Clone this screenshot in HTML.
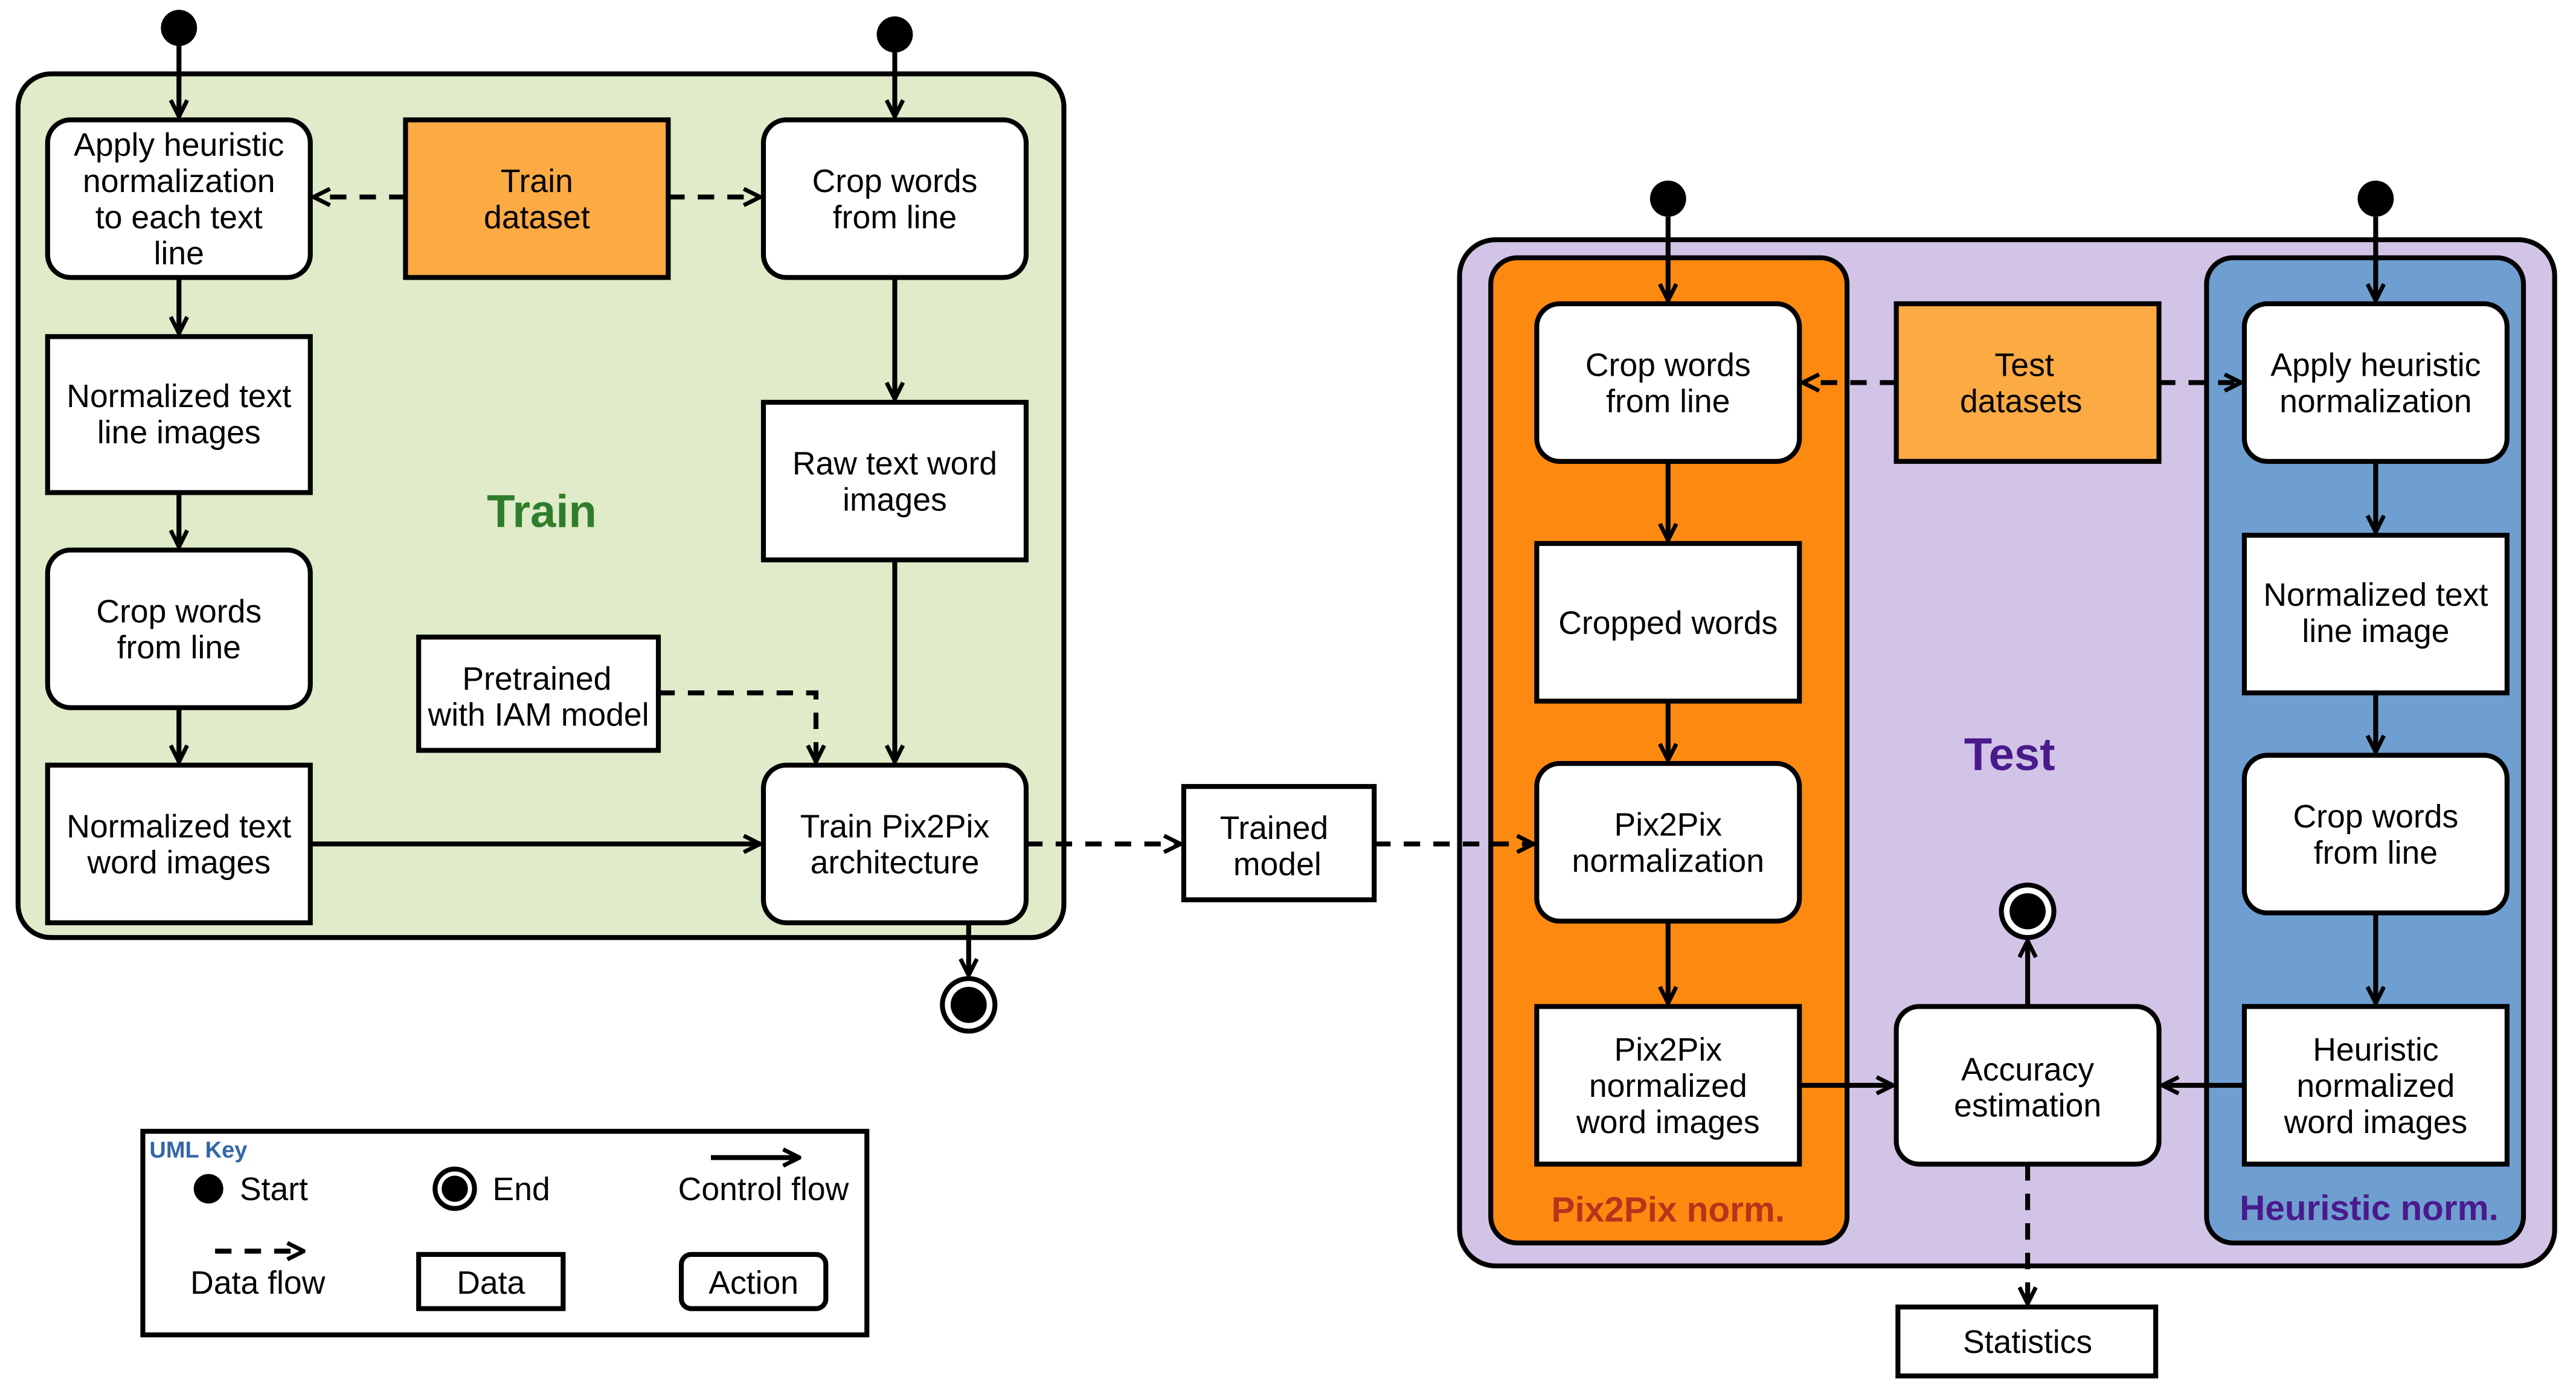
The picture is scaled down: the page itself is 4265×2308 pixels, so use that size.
<!DOCTYPE html>
<html><head><meta charset="utf-8"><style>
html,body{margin:0;padding:0;background:#fff}
svg{display:block}
text{font-family:"Liberation Sans",sans-serif;font-size:19.7px;fill:#000;text-anchor:middle}
</style></head><body>
<svg width="4265" height="2308" viewBox="0 0 1569 849" preserveAspectRatio="none" xmlns="http://www.w3.org/2000/svg">
<defs>
<marker id="a" viewBox="0 0 12 12" refX="11" refY="6" markerWidth="12" markerHeight="12" markerUnits="userSpaceOnUse" orient="auto">
<path d="M1,1 L11,6 L1,11" fill="none" stroke="#000" stroke-width="2.5"/>
</marker>
</defs>
<g stroke="#000" stroke-width="3">
<rect x="11" y="45" width="637" height="526" rx="20" fill="#dfebc9"/>
<rect x="889" y="146" width="667" height="625" rx="22" fill="#d2c4e7"/>
<rect x="908" y="157" width="217" height="600" rx="16" fill="#fd8a10"/>
<rect x="1344" y="157" width="193" height="600" rx="16" fill="#6f9fd0"/>
<rect x="29" y="73" width="160" height="96" rx="14" fill="#fff"/>
<rect x="29" y="205" width="160" height="95" fill="#fff"/>
<rect x="29" y="335" width="160" height="96" rx="14" fill="#fff"/>
<rect x="29" y="466" width="160" height="96" fill="#fff"/>
<rect x="247" y="73" width="160" height="96" fill="#fbaa44"/>
<rect x="465" y="73" width="160" height="96" rx="14" fill="#fff"/>
<rect x="465" y="245" width="160" height="96" fill="#fff"/>
<rect x="255" y="388" width="146" height="69" fill="#fff"/>
<rect x="465" y="466" width="160" height="96" rx="14" fill="#fff"/>
<rect x="721" y="479" width="116" height="69" fill="#fff"/>
<rect x="936" y="185" width="160" height="96" rx="14" fill="#fff"/>
<rect x="1155" y="185" width="160" height="96" fill="#fbaa44"/>
<rect x="1367" y="185" width="160" height="96" rx="14" fill="#fff"/>
<rect x="936" y="331" width="160" height="96" fill="#fff"/>
<rect x="1367" y="326" width="160" height="96" fill="#fff"/>
<rect x="936" y="465" width="160" height="96" rx="14" fill="#fff"/>
<rect x="1367" y="460" width="160" height="96" rx="14" fill="#fff"/>
<rect x="936" y="613" width="160" height="96" fill="#fff"/>
<rect x="1155" y="613" width="160" height="96" rx="14" fill="#fff"/>
<rect x="1367" y="613" width="160" height="96" fill="#fff"/>
<rect x="1156" y="796" width="157" height="42" fill="#fff"/>
<rect x="87" y="689" width="441" height="124" fill="#fff"/>
<rect x="255" y="764" width="88" height="33" fill="#fff"/>
<rect x="415" y="764" width="88" height="33" rx="6" fill="#fff"/>
</g>
<g fill="#000">
<circle cx="109" cy="17" r="11"/><circle cx="545" cy="21" r="11"/>
<circle cx="1016" cy="121" r="11"/><circle cx="1447" cy="121" r="11"/>
<circle cx="127" cy="724" r="9"/>
</g>
<g fill="#fff" stroke="#000" stroke-width="3">
<circle cx="590" cy="612" r="16"/><circle cx="1235" cy="555" r="16"/><circle cx="277" cy="724" r="12"/>
</g>
<g fill="#000"><circle cx="590" cy="612" r="11"/><circle cx="1235" cy="555" r="11"/><circle cx="277" cy="724" r="8"/></g>
<g stroke="#000" stroke-width="3" fill="none" marker-end="url(#a)">
<path d="M109,28 V71"/><path d="M545,32 V71"/>
<path d="M109,169 V203"/><path d="M109,300 V333"/><path d="M109,431 V464"/>
<path d="M545,169 V243"/><path d="M545,341 V464"/>
<path d="M189,514 H463"/>
<path d="M1016,132 V183"/><path d="M1447,132 V183"/>
<path d="M1016,281 V329"/><path d="M1016,427 V463"/><path d="M1016,561 V611"/>
<path d="M1447,281 V324"/><path d="M1447,422 V458"/><path d="M1447,556 V611"/>
<path d="M1096,661 H1153"/><path d="M1367,661 H1317"/>
<path d="M1235,613 V573"/>
<path d="M590,562 V594"/>
<path d="M433,705 H487"/>
</g>
<g stroke="#000" stroke-width="3" fill="none" stroke-dasharray="10,8" marker-end="url(#a)">
<path d="M247,120 H191"/><path d="M407,120 H463"/>
<path d="M401,422 H497 V464"/>
<path d="M625,514 H719"/><path d="M837,514 H934"/>
<path d="M1155,233 H1098"/><path d="M1315,233 H1365"/>
<path d="M1235,709 V794"/>
<path d="M131,762 H185"/>
</g>
<text x="109" y="95">Apply heuristic</text><text x="109" y="117">normalization</text><text x="109" y="139">to each text</text><text x="109" y="161">line</text>
<text x="109" y="248">Normalized text</text><text x="109" y="270">line images</text>
<text x="109" y="379">Crop words</text><text x="109" y="401">from line</text>
<text x="109" y="510">Normalized text</text><text x="109" y="532">word images</text>
<text x="327" y="117">Train</text><text x="327" y="139">dataset</text>
<text x="545" y="117">Crop words</text><text x="545" y="139">from line</text>
<text x="545" y="289">Raw text word</text><text x="545" y="311">images</text>
<text x="327" y="420">Pretrained</text><text x="328" y="442">with IAM model</text>
<text x="545" y="510">Train Pix2Pix</text><text x="545" y="532">architecture</text>
<text x="776" y="511">Trained</text><text x="778" y="533">model</text>
<text x="330" y="321" style="font-size:28px;font-weight:bold;fill:#2f7d2c">Train</text>
<text x="1016" y="229">Crop words</text><text x="1016" y="251">from line</text>
<text x="1233" y="229">Test</text><text x="1231" y="251">datasets</text>
<text x="1447" y="229">Apply heuristic</text><text x="1447" y="251">normalization</text>
<text x="1016" y="386">Cropped words</text>
<text x="1447" y="369">Normalized text</text><text x="1447" y="391">line image</text>
<text x="1016" y="509">Pix2Pix</text><text x="1016" y="531">normalization</text>
<text x="1447" y="504">Crop words</text><text x="1447" y="526">from line</text>
<text x="1016" y="646">Pix2Pix</text><text x="1016" y="668">normalized</text><text x="1016" y="690">word images</text>
<text x="1235" y="658">Accuracy</text><text x="1235" y="680">estimation</text>
<text x="1447" y="646">Heuristic</text><text x="1447" y="668">normalized</text><text x="1447" y="690">word images</text>
<text x="1235" y="824">Statistics</text>
<text x="1224" y="469" style="font-size:28px;font-weight:bold;fill:#4a1a8c">Test</text>
<text x="1016" y="744" style="font-size:21.5px;font-weight:bold;fill:#b5341b">Pix2Pix norm.</text>
<text x="1443" y="743" style="font-size:21.5px;font-weight:bold;fill:#4a1a8c">Heuristic norm.</text>
<text x="91" y="705" style="font-size:14px;font-weight:bold;fill:#3266a8;text-anchor:start">UML Key</text>
<text x="146" y="731" style="text-anchor:start">Start</text>
<text x="300" y="731" style="text-anchor:start">End</text>
<text x="465" y="731">Control flow</text>
<text x="157" y="788">Data flow</text>
<text x="299" y="788">Data</text>
<text x="459" y="788">Action</text>
</svg>
</body></html>
